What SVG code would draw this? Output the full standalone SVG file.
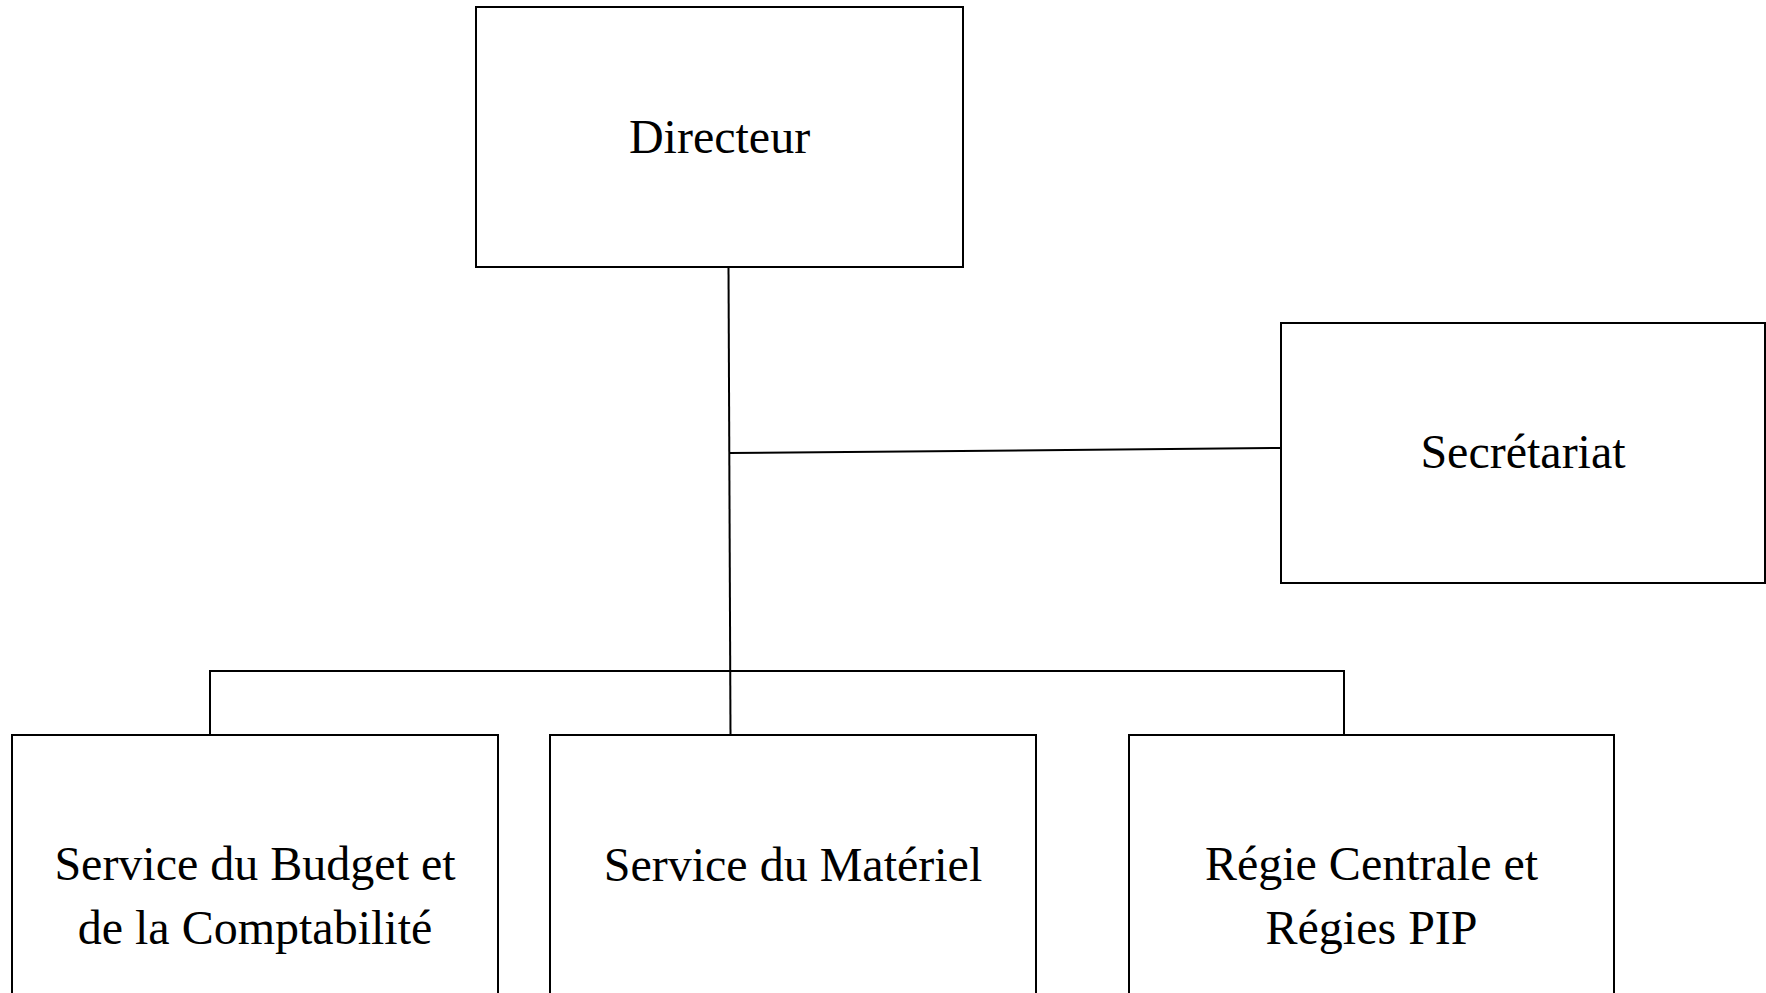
<svg xmlns="http://www.w3.org/2000/svg" width="1766" height="993" viewBox="0 0 1766 993">
<style>
.box{fill:#ffffff;stroke:#000000;stroke-width:2}
.lbl{font-family:"Liberation Serif","Times New Roman",serif;font-size:48px;fill:#000000;text-anchor:middle}
.con{fill:none;stroke:#000000;stroke-width:2}
</style>
<rect x="0" y="0" width="1766" height="993" fill="#ffffff"/>
<g id="connectors">
<line class="con" x1="728.5" y1="267" x2="730.5" y2="735"/>
<line class="con" x1="729.5" y1="453" x2="1281" y2="448"/>
<polyline class="con" points="210,735 210,671 1344,671 1344,735"/>
</g>
<g id="directeur">
<rect class="box" x="476" y="7" width="487" height="260"/>
<text class="lbl" x="719.5" y="153">Directeur</text>
</g>
<g id="secretariat">
<rect class="box" x="1281" y="323" width="484" height="260"/>
<text class="lbl" x="1523" y="468">Secrétariat</text>
</g>
<g id="budget">
<rect class="box" x="12" y="735" width="486" height="260"/>
<text class="lbl" x="255" y="880">Service du Budget et</text>
<text class="lbl" x="255" y="944">de la Comptabilité</text>
</g>
<g id="materiel">
<rect class="box" x="550" y="735" width="486" height="260"/>
<text class="lbl" x="793" y="881">Service du Matériel</text>
</g>
<g id="regie">
<rect class="box" x="1129" y="735" width="485" height="260"/>
<text class="lbl" x="1371.5" y="880">Régie Centrale et</text>
<text class="lbl" x="1371.5" y="944">Régies PIP</text>
</g>
</svg>
